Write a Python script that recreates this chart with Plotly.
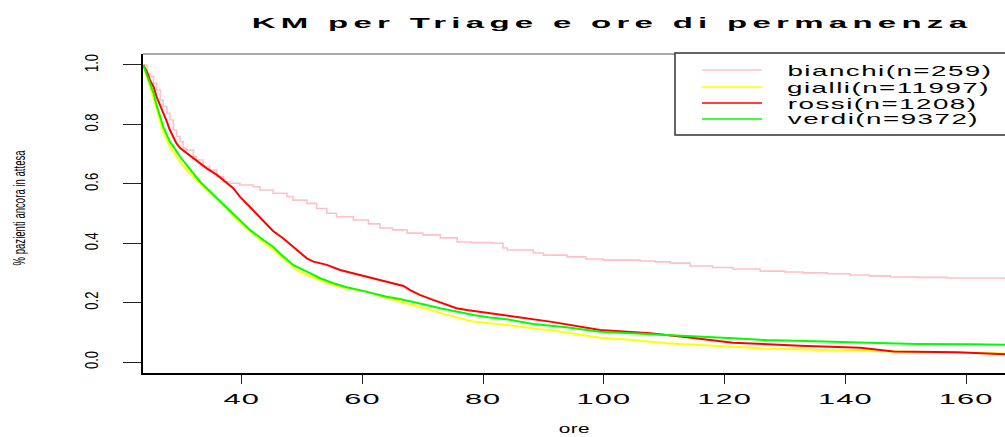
import plotly.graph_objects as go

# ---- text ----
title_text = "KM per Triage e ore di permanenza"
x_label = "ore"
y_label = "% pazienti ancora in attesa"

# ---- groups (triage colour codes) ----
groups = ["bianchi", "gialli", "rossi", "verdi"]
group_n = [259, 11997, 1208, 9372]
group_colors = ["#FFC0CB", "#FFFF00", "#FF0000", "#00FF00"]

# ---- Kaplan-Meier estimates: hours of stay vs. fraction still present ----
ore_bianchi = [23.7, 24.3, 24.8, 25.4, 25.9, 26.5, 27.0, 27.6, 28.1, 28.7, 29.2, 29.8,
               30.3, 30.9, 32.0, 32.5, 33.6, 34.7, 35.9, 37.0, 38.1, 39.7, 41.9, 43.0,
               45.2, 47.5, 48.5, 50.8, 52.4, 54.1, 55.7, 58.5, 61.0, 62.9, 65.0, 67.4,
               70.0, 72.9, 75.7, 78.0, 81.7, 83.3, 84.0, 88.3, 90.0, 93.9, 97.0, 99.9,
               106.0, 108.5, 111.0, 114.3, 118.0, 121.4, 125.9, 130.0, 133.0, 137.0,
               140.8, 144.0, 147.4, 152.0, 156.9, 166.5]
surv_bianchi = [1.000, 0.972, 0.961, 0.938, 0.916, 0.882, 0.860, 0.837, 0.815, 0.781, 0.759, 0.742,
                0.720, 0.714, 0.691, 0.680, 0.658, 0.646, 0.624, 0.607, 0.602, 0.596, 0.590, 0.579,
                0.568, 0.557, 0.545, 0.534, 0.517, 0.501, 0.489, 0.478, 0.465, 0.451, 0.445, 0.434,
                0.428, 0.418, 0.404, 0.402, 0.400, 0.384, 0.377, 0.367, 0.360, 0.354, 0.347, 0.343,
                0.340, 0.337, 0.333, 0.323, 0.318, 0.313, 0.306, 0.303, 0.300, 0.297,
                0.293, 0.290, 0.286, 0.285, 0.283, 0.279]

ore_gialli = [23.7, 24.3, 24.8, 25.4, 25.9, 26.5, 27.0, 27.6, 28.1, 28.7, 29.8, 30.9,
              32.0, 33.1, 34.2, 35.9, 37.5, 39.7, 41.4, 43.6, 46.3, 47.5, 49.1, 50.8,
              53.0, 55.2, 57.4, 60.7, 62.9, 66.2, 69.5, 72.9, 76.2, 78.4, 83.9, 89.4,
              91.1, 99.4, 104.9, 110.4, 118.7, 125.9, 138.0, 148.0, 166.5]
surv_gialli = [1.000, 0.955, 0.927, 0.888, 0.848, 0.809, 0.775, 0.747, 0.725, 0.708, 0.674, 0.646,
               0.624, 0.602, 0.579, 0.549, 0.516, 0.470, 0.440, 0.405, 0.360, 0.338, 0.310, 0.293,
               0.276, 0.259, 0.248, 0.237, 0.222, 0.203, 0.186, 0.164, 0.147, 0.136, 0.125, 0.110,
               0.108, 0.082, 0.074, 0.063, 0.054, 0.046, 0.040, 0.035, 0.029]

ore_rossi = [23.7, 24.3, 24.8, 25.4, 25.9, 26.5, 27.0, 27.6, 28.1, 28.7, 29.2, 29.8,
             30.9, 32.0, 33.1, 34.2, 35.9, 37.5, 38.6, 39.7, 41.9, 44.1, 45.2, 46.9,
             48.5, 49.7, 50.8, 51.9, 54.1, 56.3, 58.5, 60.7, 62.9, 65.1, 66.8, 67.9,
             69.5, 71.7, 74.0, 75.6, 77.3, 81.1, 83.9, 88.3, 91.1, 99.4, 107.7, 113.8,
             121.4, 132.5, 142.5, 148.0, 158.5, 166.5]
surv_rossi = [1.000, 0.977, 0.949, 0.927, 0.893, 0.865, 0.837, 0.809, 0.781, 0.759, 0.736, 0.720,
              0.703, 0.686, 0.669, 0.652, 0.630, 0.605, 0.585, 0.557, 0.510, 0.465, 0.441, 0.416,
              0.388, 0.366, 0.349, 0.338, 0.327, 0.310, 0.299, 0.287, 0.276, 0.265, 0.256, 0.242,
              0.226, 0.209, 0.192, 0.181, 0.175, 0.164, 0.158, 0.144, 0.136, 0.108, 0.097, 0.083,
              0.065, 0.055, 0.048, 0.035, 0.033, 0.026]

ore_verdi = [23.7, 24.3, 24.8, 25.4, 25.9, 26.5, 27.0, 27.6, 28.1, 28.7, 29.8, 30.9,
             32.0, 33.1, 34.2, 35.9, 37.5, 39.7, 41.4, 43.6, 45.2, 46.3, 47.5, 48.5,
             50.8, 53.0, 55.2, 57.4, 59.6, 61.8, 64.0, 66.2, 68.4, 70.6, 72.9, 75.6,
             78.4, 81.1, 83.9, 88.3, 93.8, 99.4, 104.9, 110.4, 115.9, 121.4, 127.0,
             132.5, 138.0, 143.6, 151.8, 160.7, 166.5]
surv_verdi = [1.000, 0.966, 0.938, 0.905, 0.865, 0.826, 0.792, 0.764, 0.742, 0.725, 0.691, 0.663,
              0.635, 0.607, 0.585, 0.551, 0.520, 0.475, 0.444, 0.411, 0.388, 0.366, 0.343, 0.327,
              0.304, 0.282, 0.265, 0.252, 0.242, 0.231, 0.220, 0.212, 0.203, 0.192, 0.181, 0.169,
              0.158, 0.150, 0.144, 0.128, 0.117, 0.102, 0.097, 0.091, 0.085, 0.080, 0.074,
              0.072, 0.068, 0.065, 0.061, 0.060, 0.058]

x_ticks = [40, 60, 80, 100, 120, 140, 160]
y_ticks = [0.0, 0.2, 0.4, 0.6, 0.8, 1.0]
y_tick_text = ["0.0", "0.2", "0.4", "0.6", "0.8", "1.0"]

series = {
    "bianchi": (ore_bianchi, surv_bianchi, "hv", 1.6),
    "gialli": (ore_gialli, surv_gialli, "linear", 2),
    "rossi": (ore_rossi, surv_rossi, "linear", 2),
    "verdi": (ore_verdi, surv_verdi, "linear", 2),
}

FONT = "Liberation Sans, Arial, sans-serif"
W, H = 1005, 437
L, R, T, B = 143, 0, 54, 64
pw, ph = W - L - R, H - T - B


def px_x(px):
    return (px - L) / pw


def px_y(py):
    return (H - B - py) / ph


fig = go.Figure()
for name, color in zip(groups, group_colors):
    xs, ys, shape, lw = series[name]
    fig.add_trace(go.Scatter(x=xs, y=ys, mode="lines", name=name,
                             line=dict(color=color, width=lw, shape=shape),
                             showlegend=False, hoverinfo="skip"))

shapes = [
    # upper edge of the plot box
    dict(type="line", xref="paper", yref="paper", x0=0, x1=1, y0=1, y1=1,
         line=dict(color="#555555", width=1)),
    # legend frame (runs past the right edge)
    dict(type="rect", xref="paper", yref="paper", x0=px_x(675), x1=px_x(1012),
         y0=px_y(135), y1=px_y(53), line=dict(color="#333333", width=1.5),
         fillcolor="white", layer="above"),
]
annotations = []
row_y = [70, 87, 103, 119]
for name, n, color, ry in zip(groups, group_n, group_colors, row_y):
    shapes.append(dict(type="line", xref="paper", yref="paper",
                       x0=px_x(702), x1=px_x(762), y0=px_y(ry), y1=px_y(ry),
                       line=dict(color=color, width=1.5), layer="above"))
    annotations.append(dict(xref="paper", yref="paper", x=px_x(792), y=px_y(ry),
                            xanchor="left", yanchor="middle", showarrow=False,
                            text=f"{name}(n={n})", borderpad=0,
                            font=dict(family=FONT, size=15, color="black")))

# axis titles
annotations.append(dict(xref="paper", yref="paper", x=px_x(19), y=px_y(208),
                        xanchor="center", yanchor="middle", showarrow=False,
                        textangle=-90, text=y_label,
                        font=dict(family=FONT, size=12, color="black")))
annotations.append(dict(xref="paper", yref="paper", x=0.5, y=px_y(428),
                        xanchor="center", yanchor="middle", showarrow=False,
                        text=x_label, font=dict(family=FONT, size=13, color="black")))

fig.update_layout(
    width=W, height=H,
    margin=dict(l=L, r=R, t=T, b=B),
    paper_bgcolor="white", plot_bgcolor="white",
    title=dict(text=title_text, x=612 / W, xref="container", xanchor="center",
               y=1 - 23 / H, yref="container", yanchor="middle",
               font=dict(family=FONT, size=15, color="black", weight="bold")),
    shapes=shapes, annotations=annotations,
    xaxis=dict(range=[23.65, 166.46], tickvals=x_ticks, ticks="outside", ticklen=9,
               tickwidth=1, tickcolor="#222222", showline=True, linecolor="black",
               linewidth=2, showgrid=False, zeroline=False, ticklabelstandoff=3,
               tickfont=dict(family=FONT, size=14, color="black")),
    yaxis=dict(range=[-0.037, 1.037], tickvals=y_ticks, ticktext=y_tick_text,
               tickangle=-90, ticks="outside", ticklen=18, tickwidth=1,
               tickcolor="#222222", showline=True, linecolor="black", linewidth=2,
               showgrid=False, zeroline=False, ticklabelstandoff=21,
               tickfont=dict(family=FONT, size=13, color="black")),
)

# widen the lettering horizontally, as in the wide-format device output
post = """
var gd = document.getElementById('{plot_id}');
var svg = gd.querySelector('svg');
function stretch(el, sx, sy, ls, atStart) {
  if (!el) return;
  if (ls) el.style.letterSpacing = ls + 'px';
  var r = el.getBoundingClientRect();
  var m = el.parentNode.getScreenCTM().inverse();
  var p = svg.createSVGPoint();
  p.x = atStart ? r.left : (r.left + r.right) / 2;
  p.y = (r.top + r.bottom) / 2;
  var q = p.matrixTransform(m);
  var t = el.getAttribute('transform') || '';
  el.setAttribute('transform', 'translate(' + q.x + ',' + q.y + ') scale(' + sx + ',' + sy +
                  ') translate(' + (-q.x) + ',' + (-q.y) + ') ' + t);
}
stretch(gd.querySelector('.gtitle'), 2.2, 1, 2.4, false);
gd.querySelectorAll('.xtick text').forEach(function (e) { stretch(e, 2.2, 1, 0.5, false); });
gd.querySelectorAll('.ytick text').forEach(function (e) { stretch(e, 1.35, 1, 0, false); });
gd.querySelectorAll('.annotation').forEach(function (g) {
  var i = +g.getAttribute('data-index');
  var t = g.querySelector('.annotation-text');
  if (i <= 3) stretch(t, 1.85, 1, 0.8, true);
  else if (i === 4) stretch(t, 0.8, 1.4, 0, false);
  else stretch(t, 1.6, 1, 0.3, false);
});
"""

fig.write_html("out.html", post_script=post)
